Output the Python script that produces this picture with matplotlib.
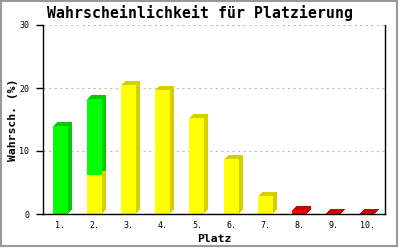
import matplotlib
matplotlib.use('Agg')
from matplotlib import pyplot as plt
from matplotlib import transforms
from matplotlib.patches import Rectangle

# data
places = ['1.', '2.', '3.', '4.', '5.', '6.', '7.', '8.', '9.', '10.']
green = [14.0, 12.1, 0, 0, 0, 0, 0, 0, 0, 0]
yellow = [0, 6.2, 20.5, 19.7, 15.2, 8.7, 2.9, 0, 0, 0]
red = [0, 0, 0, 0, 0, 0, 0, 0.6, 0.15, 0.1]

FRONT = {'yellow': '#ffff00', 'green': '#00ff00', 'red': '#ff0000'}
SIDE = {'yellow': '#d4d000', 'green': '#00cc00', 'red': '#cc0000'}


def main():
    fig = plt.figure(figsize=(4, 2.5), dpi=100)
    ax = fig.add_axes([0.1075, 0.144, 0.855, 0.756])
    x = list(range(len(places)))
    width = 0.44
    depth = 4  # px

    # stacking: yellow at bottom, green on top of it, red alone
    stacks = [('yellow', yellow, [0] * len(x)),
              ('green', green, yellow),
              ('red', red, [0] * len(x))]

    # extrusion drawn as shifted copies behind the front
    for d in range(1, depth + 1):
        off = transforms.ScaledTranslation(d / 100, d / 100, fig.dpi_scale_trans)
        for name, vals, base in stacks:
            ax.bar(x, vals, width, bottom=base, color=SIDE[name],
                   linewidth=0, transform=ax.transData + off, zorder=2)
    for name, vals, base in stacks:
        ax.bar(x, vals, width, bottom=base, color=FRONT[name],
               linewidth=0, zorder=3)

    ax.set_xlim(-0.5, len(x) - 0.5)
    ax.set_ylim(0, 30)
    ax.set_yticks([0, 10, 20, 30])
    ax.set_xticks(x)
    ax.set_xticklabels(places, family='DejaVu Sans Mono', fontsize=6)
    for lab in ax.get_yticklabels():
        lab.set_family('DejaVu Sans Mono')
        lab.set_fontsize(6)
    ax.tick_params(axis='x', length=0, pad=5)
    ax.tick_params(axis='y', length=5, width=1, pad=5)
    ax.yaxis.grid(True, color='#bbbbbb', linestyle=(0, (2, 3)), linewidth=0.8)
    ax.set_axisbelow(True)
    ax.spines['top'].set_visible(False)
    for s in ('left', 'bottom', 'right'):
        ax.spines[s].set_linewidth(1)
        ax.spines[s].set_zorder(4)

    ax.set_xlabel('Platz', family='DejaVu Sans Mono', fontsize=8.2,
                  fontweight='bold', labelpad=3)
    ax.set_ylabel('Wahrsch. (%)', family='DejaVu Sans Mono', fontsize=8.2,
                  fontweight='bold', labelpad=1)
    fig.text(0.5, 1 - 13 / 250, 'Wahrscheinlichkeit für Platzierung',
             ha='center', va='center', family='DejaVu Sans Mono',
             fontsize=10.7, fontweight='bold')

    # gray frame round the picture
    fig.patches.append(Rectangle((0.003, 0.018), 0.99, 0.978,
                                 transform=fig.transFigure, fill=False,
                                 edgecolor='#999999', linewidth=1.5))
    fig.savefig('out.png', dpi=100)


if __name__ == '__main__':
    main()
